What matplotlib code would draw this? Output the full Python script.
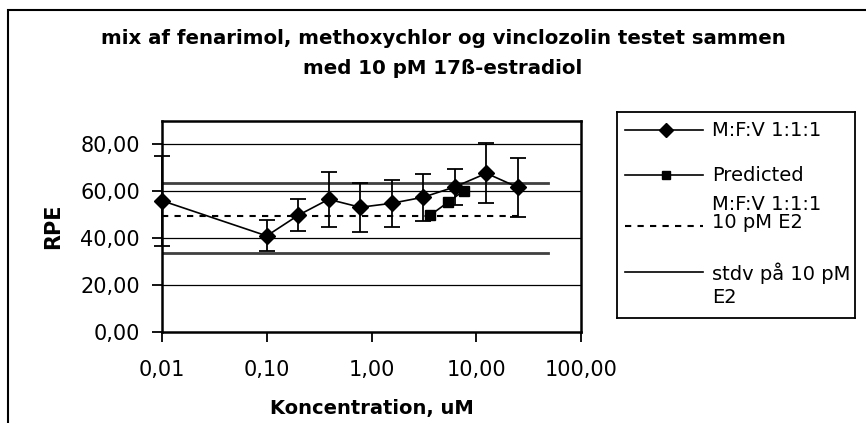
import numpy as np
import matplotlib
matplotlib.use("Agg")
import matplotlib.pyplot as plt
from matplotlib.lines import Line2D
from matplotlib.patches import Rectangle
from matplotlib.ticker import FixedLocator, FuncFormatter

plt.rcParams['font.family'] = ['DejaVu Sans']

# mix M:F:V 1:1:1, concentration in uM
conc = [0.01, 0.1, 0.2, 0.39, 0.78, 1.56, 3.125, 6.25, 12.5, 25]
rpe = [56.0, 41.0, 49.8, 56.6, 53.2, 54.9, 57.5, 61.9, 67.7, 61.7]
rpe_err = [19.2, 6.6, 6.8, 11.6, 10.5, 9.9, 10.1, 7.8, 12.8, 12.7]

# predicted response
pred_conc = [3.6, 5.4, 7.6]
pred_rpe = [49.7, 55.4, 60.3]

# 10 pM E2 reference level and its stdv band
e2_conc = [0.01, 25]
e2_mean = 49.6
stdv_conc = [0.01, 48]
stdv_hi = 63.4
stdv_lo = 33.9

fig = plt.figure(figsize=(8.66, 4.23), dpi=100)

# outer chart frame
fig.patches.append(Rectangle((8 / 866, -0.1), 1.0, 1 - 10 / 423 + 0.1,
                             transform=fig.transFigure, fill=False,
                             edgecolor='black', linewidth=1.5))

ax = fig.add_axes([162 / 866, 1 - 332 / 423, 419 / 866, 211 / 423])

ax.set_xscale('log')
ax.set_xlim(0.01, 100)
ax.set_ylim(0, 90)

for y in [20, 40, 60, 80]:
    ax.axhline(y, color='black', linewidth=0.9, zorder=1)

ax.plot(stdv_conc, [stdv_hi, stdv_hi], color='#404040', linewidth=2, zorder=2)
ax.plot(stdv_conc, [stdv_lo, stdv_lo], color='#404040', linewidth=2, zorder=2)
ax.plot(e2_conc, [e2_mean, e2_mean], color='black', linewidth=1.5,
        linestyle=(0, (3, 3)), zorder=2)

ax.errorbar(conc, rpe, yerr=rpe_err, color='black', linewidth=1.2,
            elinewidth=1.3, capsize=6, capthick=1.3, marker='D',
            markersize=8.5, zorder=4, clip_on=False)
ax.plot(pred_conc, pred_rpe, color='black', linewidth=1.2, marker='s',
        markersize=7, zorder=5)

ax.xaxis.set_major_locator(FixedLocator([0.01, 0.1, 1, 10, 100]))
ax.xaxis.set_minor_locator(FixedLocator([]))
ax.xaxis.set_major_formatter(FuncFormatter(lambda v, p: f"{v:.2f}".replace('.', ',')))
ax.yaxis.set_major_locator(FixedLocator([0, 20, 40, 60, 80]))
ax.yaxis.set_major_formatter(FuncFormatter(lambda v, p: f"{v:.2f}".replace('.', ',')))
ax.tick_params(axis='both', direction='out', length=7, width=1.3,
               labelsize=15, colors='black')
ax.tick_params(axis='x', pad=13)
ax.tick_params(axis='y', pad=9)
for s in ax.spines.values():
    s.set_linewidth(1.8)

ax.set_xlabel('Koncentration, uM', fontsize=14, fontweight='bold', labelpad=14)
ax.set_ylabel('RPE', fontsize=15, fontweight='bold', labelpad=12)

fig.text(443 / 866, 1 - 38 / 423,
         'mix af fenarimol, methoxychlor og vinclozolin testet sammen',
         ha='center', va='center', fontsize=14.2, fontweight='bold')
fig.text(443 / 866, 1 - 69 / 423, 'med 10 pM 17ß-estradiol',
         ha='center', va='center', fontsize=14.2, fontweight='bold')

# legend box, laid out in pixel units
lg = fig.add_axes([617 / 866, 1 - 318 / 423, 238 / 866, 206 / 423])
lg.set_xlim(617, 855)
lg.set_ylim(318, 112)
lg.set_xticks([])
lg.set_yticks([])
for s in lg.spines.values():
    s.set_linewidth(1.3)

lg.add_line(Line2D([625, 703], [130, 130], color='black', linewidth=1.2))
lg.add_line(Line2D([666], [130], color='black', marker='D', markersize=7.5))
lg.add_line(Line2D([625, 703], [175, 175], color='black', linewidth=1.2))
lg.add_line(Line2D([666], [175], color='black', marker='s', markersize=6))
lg.add_line(Line2D([625, 703], [226, 226], color='black', linewidth=1.5,
                   linestyle=(0, (3, 3))))
lg.add_line(Line2D([625, 703], [272, 272], color='black', linewidth=1.2))

leg_fs = 14
lg.text(712, 130, 'M:F:V 1:1:1', va='center', fontsize=leg_fs)
lg.text(712, 175, 'Predicted', va='center', fontsize=leg_fs)
lg.text(712, 204, 'M:F:V 1:1:1', va='center', fontsize=leg_fs)
lg.text(712, 222, '10 pM E2', va='center', fontsize=leg_fs)
lg.text(712, 273, 'stdv på 10 pM', va='center', fontsize=leg_fs)
lg.text(712, 297, 'E2', va='center', fontsize=leg_fs)

fig.savefig('out.png', dpi=100)
